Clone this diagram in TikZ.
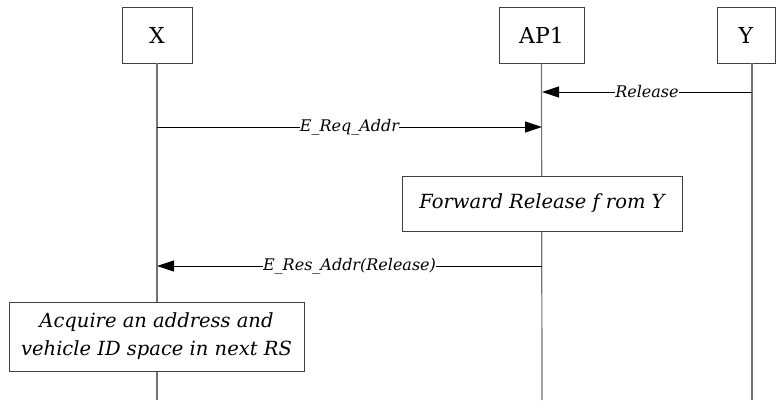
\documentclass[tikz,border=0pt]{standalone}
\usepackage{amsmath}
\usepackage{fontspec}
\setmainfont{DejaVu Serif}
\usepackage{tikz}
\usetikzlibrary{arrows.meta}

\begin{document}
\begin{tikzpicture}[x=1pt,y=-1pt,
    box/.style={draw=black!75,fill=white,line width=0.9pt,minimum height=56pt,inner sep=0pt,font=\fontsize{22}{26}\selectfont},
    note/.style={draw=black!75,fill=white,line width=0.9pt,inner sep=0pt,align=center,font=\fontsize{19.5}{28}\selectfont\itshape},
    life/.style={draw=black!55,line width=1.2pt},
    msg/.style={draw=black,line width=0.8pt,-{Triangle[length=17pt,width=11pt]}},
    lbl/.style={fill=white,inner sep=0pt,font=\fontsize{16}{18}\selectfont\itshape}]
    \useasboundingbox (0,0) rectangle (776,404);

    % heads
    \node [box,minimum width=70pt] (X) at (157,35) {X};
    \node [box,minimum width=85pt] (AP) at (541.5,35) {AP1};
    \node [box,minimum width=58pt] (Y) at (746,35) {Y};

    % lifelines
    \coordinate (xEnd) at (157,400);
    \coordinate (apEnd) at (542,400);
    \coordinate (yTop) at (752,63);
    \coordinate (yEnd) at (752,400);
    \draw [life] (X.south) -- (xEnd);
    \draw [life] (AP.south) -- (apEnd);
    \draw [life] (yTop) -- (yEnd);

    % messages
    \coordinate (relY) at (752,92);
    \coordinate (relAP) at (542,92);
    \coordinate (reqX) at (157,127);
    \coordinate (reqAP) at (542,127);
    \coordinate (resAP) at (542,266);
    \coordinate (resX) at (157,266);
    \draw [msg] (relY) -- (relAP) node [lbl,midway] {Release};
    \draw [msg] (reqX) -- (reqAP) node [lbl,midway] {E\textunderscore Req\textunderscore Addr};
    \draw [msg] (resAP) -- (resX) node [lbl,midway] {E\textunderscore Res\textunderscore Addr(Release)};

    % actions
    \node [note,minimum width=280pt,minimum height=55pt] (fwd) at (542,203.5) {Forward Release f rom Y};
    \node [note,minimum width=295pt,minimum height=69pt] (acq) at (156.5,336.5) {Acquire an address and\\vehicle ID space in next RS};
\end{tikzpicture}
\end{document}
